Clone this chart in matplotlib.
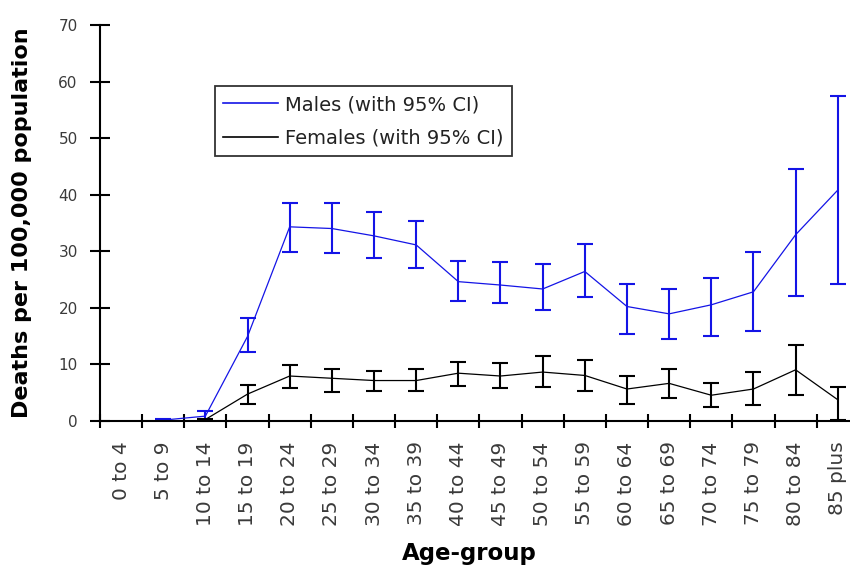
import numpy as np
import matplotlib
matplotlib.use("Agg")
import matplotlib.pyplot as plt

# age groups on the x axis
age_groups = ["0 to 4", "5 to 9", "10 to 14", "15 to 19", "20 to 24", "25 to 29",
              "30 to 34", "35 to 39", "40 to 44", "45 to 49", "50 to 54", "55 to 59",
              "60 to 64", "65 to 69", "70 to 74", "75 to 79", "80 to 84", "85 plus"]

# deaths per 100,000, with lower / upper 95% CI
males = [np.nan, 0.1, 0.8, 14.9, 34.3, 34.0, 32.7, 31.1, 24.6, 24.0,
         23.3, 26.4, 20.2, 18.9, 20.5, 22.8, 32.9, 40.8]
males_lo = [np.nan, 0.0, 0.1, 12.2, 29.9, 29.6, 28.7, 27.1, 21.1, 20.8,
            19.5, 21.8, 15.3, 14.4, 15.0, 15.9, 22.1, 24.2]
males_hi = [np.nan, 0.3, 1.7, 18.1, 38.5, 38.5, 36.9, 35.3, 28.3, 28.0,
            27.7, 31.2, 24.2, 23.3, 25.2, 29.9, 44.5, 57.5]

females = [np.nan, np.nan, 0.2, 4.7, 7.9, 7.5, 7.1, 7.1, 8.4, 7.9,
           8.6, 8.0, 5.6, 6.6, 4.5, 5.6, 9.0, 3.7]
females_lo = [np.nan, np.nan, 0.1, 3.0, 5.8, 5.1, 5.3, 5.3, 6.1, 5.8,
              6.0, 5.3, 3.0, 4.0, 2.4, 2.7, 4.5, 0.1]
females_hi = [np.nan, np.nan, 0.3, 6.3, 9.9, 9.2, 8.8, 9.2, 10.4, 10.2,
              11.5, 10.7, 7.9, 9.2, 6.7, 8.6, 13.3, 6.0]

BLUE = "#1414e6"
x = np.arange(len(age_groups))

fig = plt.figure(figsize=(8.5, 5.7), dpi=100)
ax = fig.add_axes([0.1176, 0.262, 0.8824, 0.694])


def draw_series(vals, lo, hi, color, label):
    vals, lo, hi = np.array(vals), np.array(lo), np.array(hi)
    ok = ~np.isnan(vals)
    ax.plot(x[ok], vals[ok], color=color, lw=0.9, label=label)
    ax.errorbar(x[ok], vals[ok], yerr=[vals[ok] - lo[ok], hi[ok] - vals[ok]],
                fmt="none", ecolor=color, elinewidth=1.5, capsize=5.5,
                capthick=1.5)


draw_series(males, males_lo, males_hi, BLUE, "Males (with 95% CI)")
draw_series(females, females_lo, females_hi, "black", "Females (with 95% CI)")

ax.set_xlim(-0.5, 17.29)
ax.set_ylim(0, 70)

for side in ("top", "right"):
    ax.spines[side].set_visible(False)
for side in ("left", "bottom"):
    ax.spines[side].set_linewidth(1.5)
    ax.spines[side].set_clip_on(False)

# y axis
ax.set_yticks(range(0, 71, 10))
ax.tick_params(axis="y", direction="inout", length=14, width=1.5, pad=9,
               labelsize=11, labelcolor="#3a3a3a")
for t in ax.get_yticklabels():
    t.set_family("DejaVu Sans")

# x axis: labels at the centre of each group, ticks on the boundaries
ax.set_xticks(x)
ax.set_xticklabels(age_groups, rotation=90, family="DejaVu Sans",
                   fontsize=14.5, color="#3a3a3a", va="top")
ax.tick_params(axis="x", which="major", length=0, pad=15)
ax.set_xticks(np.arange(-0.5, 17, 1.0), minor=True)
ax.tick_params(axis="x", which="minor", direction="inout", length=9.5, width=1.5)

ax.set_ylabel("Deaths per 100,000 population", family="DejaVu Sans",
              fontweight="bold", fontsize=16)
ax.yaxis.set_label_coords(-0.091, 0.5)
ax.set_xlabel("Age-group", family="DejaVu Sans", fontweight="bold",
              fontsize=16.5, va="center")
ax.xaxis.set_label_coords(0.493, -0.335)

leg = ax.legend(loc="upper left", bbox_to_anchor=(0.153, 0.845),
                borderaxespad=0, frameon=True, fancybox=False,
                prop={"family": "DejaVu Sans", "size": 14},
                handlelength=2.8, handletextpad=0.35, borderpad=0.45,
                labelspacing=0.75)
leg.get_frame().set_edgecolor("black")
leg.get_frame().set_linewidth(1.3)
for line in leg.get_lines():
    line.set_linewidth(1.2)
for t in leg.get_texts():
    t.set_color("#222222")

fig.savefig("out.png", dpi=100)
